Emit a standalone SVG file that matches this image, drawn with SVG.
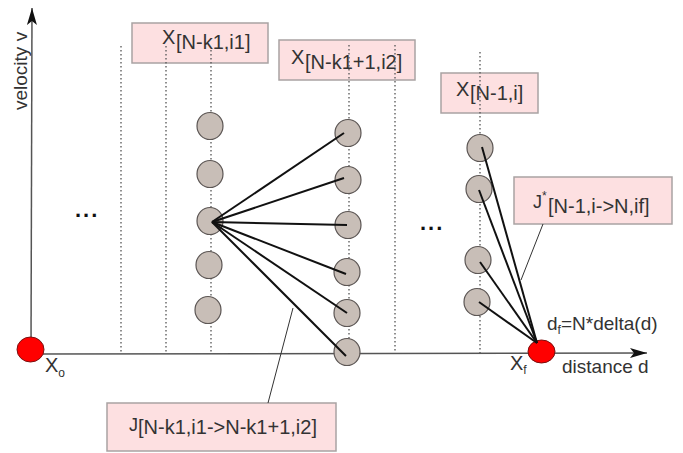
<svg xmlns="http://www.w3.org/2000/svg" width="683" height="453" viewBox="0 0 683 453">
<defs>
<marker id="arr" markerUnits="userSpaceOnUse" viewBox="0 0 17 10" refX="17" refY="5" markerWidth="17" markerHeight="10" orient="auto">
<path d="M0,0 L17,5 L0,10 L4,5 z" fill="#111"/>
</marker>
<style>
.box{fill:#fde0e1;stroke:#a9a3a3;stroke-width:1.5}
.lbl{font-family:"Liberation Sans",Arial,sans-serif;font-size:19px;fill:#333}
.big{font-size:20px}
.jj{font-size:18px}
.sub{font-size:20px}
.sm{font-size:12px}
.dot{stroke:#555;stroke-width:1.3;stroke-dasharray:1.5 2.5;fill:none}
.st{fill:#c8beb7;stroke:#5c5654;stroke-width:1.2}
.red{fill:#ff0000;stroke:#7a1010;stroke-width:1}
.edge{stroke:#111;stroke-width:2;fill:none}
.lead{stroke:#333;stroke-width:1;fill:none}
.axis{stroke:#555;stroke-width:1.5;fill:none}
.dots{font-family:"Liberation Sans",Arial,sans-serif;font-size:22px;font-weight:bold;fill:#111;letter-spacing:2px}
</style>
</defs>
<rect width="683" height="453" fill="#fff"/>

<g id="labels">
<g id="label-x1"><rect class="box" x="132" y="23" width="136" height="40"/>
<text class="lbl big" x="162" y="44">X<tspan class="sub" x="176" y="49">[N-k1,i1]</tspan></text></g>
<g id="label-x2"><rect class="box" x="279" y="40" width="136" height="40"/>
<text class="lbl big" x="291" y="64">X<tspan class="sub" x="305" y="69">[N-k1+1,i2]</tspan></text></g>
<g id="label-x3"><rect class="box" x="441" y="73" width="97" height="40"/>
<text class="lbl big" x="456" y="96">X<tspan class="sub" x="470" y="100">[N-1,i]</tspan></text></g>
<g id="label-jstar"><rect class="box" x="514" y="177" width="158" height="47"/>
<text class="lbl jj" x="533" y="208">J<tspan class="sm" x="542" y="200">*</tspan><tspan class="sub" x="548" y="213">[N-1,i-&gt;N,if]</tspan></text></g>
<g id="label-j"><rect class="box" x="107" y="403" width="229" height="48"/>
<text class="lbl jj" x="129" y="431">J<tspan class="sub" x="138" y="434">[N-k1,i1-&gt;N-k1+1,i2]</tspan></text></g>
</g>

<g id="grid">
<line class="dot" x1="121" y1="46" x2="121" y2="354"/>
<line class="dot" x1="166" y1="46" x2="166" y2="354"/>
<line class="dot" x1="211" y1="50" x2="211" y2="354"/>
<line class="dot" x1="349" y1="45" x2="349" y2="354"/>
<line class="dot" x1="395" y1="45" x2="395" y2="354"/>
<line class="dot" x1="480" y1="52" x2="480" y2="354"/>
</g>

<g id="axes">
<line class="axis" x1="31" y1="349" x2="32" y2="8" marker-end="url(#arr)"/>
<line class="axis" x1="30" y1="354" x2="647" y2="353" marker-end="url(#arr)"/>
<text class="lbl" transform="translate(27,110) rotate(-90)">velocity v</text>
<text class="lbl" x="562" y="373">distance d</text>
<text class="lbl" x="547" y="330">d<tspan class="sm" y="334">f</tspan><tspan y="330">=N*delta(d)</tspan></text>
<text class="dots" x="75" y="217">...</text>
<text class="dots" x="420" y="230">...</text>
</g>

<g id="node-xo"><ellipse class="red" cx="30.5" cy="349.5" rx="13.5" ry="12.5"/>
<text class="lbl big" x="45" y="372">X<tspan class="sm" y="377">o</tspan></text></g>
<g id="node-xf"><ellipse class="red" cx="541.5" cy="351.5" rx="13.5" ry="11.5"/>
<text class="lbl big" x="510" y="370">X<tspan class="sm" y="374">f</tspan></text></g>

<g id="col-a">
<g id="a1"><ellipse class="st" cx="210" cy="126" rx="13" ry="13.5"/></g>
<g id="a2"><ellipse class="st" cx="210" cy="174" rx="13" ry="13.5"/></g>
<g id="a3"><ellipse class="st" cx="210" cy="221" rx="13" ry="13.5"/></g>
<g id="a4"><ellipse class="st" cx="209" cy="265" rx="13" ry="13.5"/></g>
<g id="a5"><ellipse class="st" cx="208" cy="310" rx="13" ry="13.5"/></g>
</g>
<g id="col-b">
<g id="b1"><ellipse class="st" cx="348" cy="133" rx="13" ry="13.5"/></g>
<g id="b2"><ellipse class="st" cx="348" cy="180" rx="13" ry="13.5"/></g>
<g id="b3"><ellipse class="st" cx="348" cy="225" rx="13" ry="13.5"/></g>
<g id="b4"><ellipse class="st" cx="347" cy="272" rx="13" ry="13.5"/></g>
<g id="b5"><ellipse class="st" cx="347" cy="313" rx="13" ry="13.5"/></g>
<g id="b6"><ellipse class="st" cx="347" cy="352" rx="13" ry="13.5"/></g>
</g>
<g id="col-c">
<g id="c1"><ellipse class="st" cx="480" cy="148" rx="13" ry="13.5"/></g>
<g id="c2"><ellipse class="st" cx="479" cy="189" rx="13" ry="13.5"/></g>
<g id="c3"><ellipse class="st" cx="478" cy="260" rx="13" ry="13.5"/></g>
<g id="c4"><ellipse class="st" cx="477" cy="302" rx="13" ry="13.5"/></g>
</g>

<g id="connectors">
<line class="edge" x1="212" y1="222" x2="344" y2="133"/>
<line class="edge" x1="212" y1="222" x2="344" y2="178"/>
<line class="edge" x1="212" y1="222" x2="347" y2="225"/>
<line class="edge" x1="212" y1="222" x2="346" y2="274"/>
<line class="edge" x1="212" y1="222" x2="347" y2="313"/>
<line class="edge" x1="212" y1="222" x2="346" y2="356"/>
<line class="edge" x1="482" y1="147" x2="537" y2="343"/>
<line class="edge" x1="479" y1="190" x2="537" y2="343"/>
<line class="edge" x1="480" y1="262" x2="537" y2="343"/>
<line class="edge" x1="479" y1="302" x2="537" y2="343"/>
<line class="lead" x1="293" y1="308" x2="268" y2="403"/>
<line class="lead" x1="543" y1="224" x2="521" y2="280"/>
</g>
</svg>
